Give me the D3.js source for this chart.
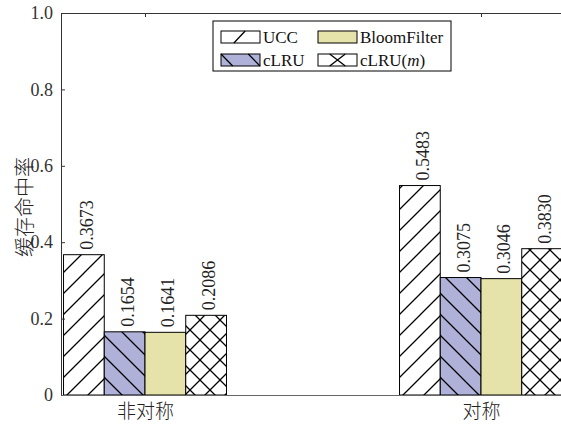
<!DOCTYPE html>
<html>
<head>
<meta charset="utf-8">
<script src="https://cdn.jsdelivr.net/npm/d3@7"></script>
<style>
  html, body { margin: 0; padding: 0; background: #fff; }
  svg { display: block; }
  .serif { font-family: "Liberation Serif", "DejaVu Serif", serif; }
  .cjk { font-family: "Noto Sans CJK SC", sans-serif; font-weight: 300; }
</style>
</head>
<body>
<svg id="chart" width="561" height="425"></svg>
<script>
// Cache hit rate per scenario and per policy
const categories = ["非对称", "对称"];
const seriesNames = ["UCC", "cLRU", "BloomFilter", "cLRU(m)"];
const ucc = [0.3673, 0.5483];
const clru = [0.1654, 0.3075];
const bloomFilter = [0.1641, 0.3046];
const clruM = [0.2086, 0.3830];
const yTicks = [0, 0.2, 0.4, 0.6, 0.8, 1.0];
const yLabel = "缓存命中率";

const seriesValues = [ucc, clru, bloomFilter, clruM];

const svg = d3.select("#chart");
const W = 561, H = 425;
const plot = { left: 61, right: 565, top: 13, bottom: 395 };

// category index 1..n on a continuous axis, groups centred on the integers
const x = d3.scaleLinear().domain([0.75, 2.25]).range([plot.left, plot.right]);
const y = d3.scaleLinear().domain([0, 1]).range([plot.bottom, plot.top]);
const inner = d3.scaleBand().domain(seriesNames).range([-0.2425, 0.2425]).padding(0);

// fills and hatch patterns
const defs = svg.append("defs");
function hatch(id, bg, kinds, size) {
  const p = defs.append("pattern").attr("id", id)
    .attr("patternUnits", "userSpaceOnUse")
    .attr("width", size).attr("height", size);
  p.append("rect").attr("width", size).attr("height", size).attr("fill", bg);
  kinds.forEach(k => {
    const d = k === "/"
      ? `M0,${size} L${size},0 M${-size/2},${size/2} L${size/2},${-size/2} M${size/2},${size*1.5} L${size*1.5},${size/2}`
      : `M0,0 L${size},${size} M${-size/2},${size/2} L${size/2},${size*1.5} M${size/2},${-size/2} L${size*1.5},${size/2}`;
    p.append("path").attr("d", d).attr("stroke", "#000").attr("stroke-width", 1.3).attr("fill", "none");
  });
}
hatch("p-ucc", "#ffffff", ["/"], 21);
hatch("p-clru", "#afb1d9", ["\\"], 21);
hatch("p-clrum", "#ffffff", ["/", "\\"], 20);

const styles = {
  "UCC": { fill: "url(#p-ucc)", bg: "#ffffff", marks: ["/"] },
  "cLRU": { fill: "url(#p-clru)", bg: "#afb1d9", marks: ["\\"] },
  "BloomFilter": { fill: "#e6e3aa", bg: "#e6e3aa", marks: [] },
  "cLRU(m)": { fill: "url(#p-clrum)", bg: "#ffffff", marks: ["x"] }
};

// flatten data
const data = [];
categories.forEach((c, ci) => {
  seriesNames.forEach((s, si) => {
    data.push({ cat: c, idx: ci + 1, series: s, value: seriesValues[si][ci] });
  });
});

const gPlot = svg.append("g");
gPlot.append("clipPath").attr("id", "clip").append("rect")
  .attr("x", plot.left).attr("y", 0).attr("width", W - plot.left).attr("height", H);

const bw = x(1 + inner.bandwidth()) - x(1);
const bars = gPlot.append("g").attr("clip-path", "url(#clip)");
bars.selectAll("rect.bar").data(data).join("rect")
  .attr("class", "bar")
  .attr("x", d => x(d.idx + inner(d.series)))
  .attr("width", bw)
  .attr("y", d => y(d.value))
  .attr("height", d => y(0) - y(d.value))
  .attr("fill", d => styles[d.series].fill)
  .attr("stroke", "#000")
  .attr("stroke-width", 1);

// value labels, rotated above each bar
bars.selectAll("text.val").data(data).join("text")
  .attr("class", "val serif")
  .attr("transform", d => `translate(${x(d.idx + inner(d.series)) + bw / 2 + 9},${y(d.value) - 5}) rotate(-90)`)
  .attr("font-size", 18)
  .attr("fill", "#222")
  .attr("text-anchor", "start")
  .text(d => d.value.toFixed(4));

// axes box: left, bottom, top
const axisColor = "#333";
const yAxis = d3.axisLeft(y).tickValues(yTicks).tickSizeInner(-4).tickSizeOuter(0)
  .tickPadding(8).tickFormat(d => d === 0 ? "0" : d3.format(".1f")(d));
const gy = svg.append("g").attr("transform", `translate(${plot.left},0)`).call(yAxis);
gy.select(".domain").attr("stroke", axisColor);
gy.selectAll(".tick line").attr("stroke", axisColor);
gy.selectAll(".tick text").attr("class", "serif").attr("font-size", 18).attr("fill", "#333");

const xTop = d3.axisTop(x).tickValues([1, 2]).tickSizeInner(-4).tickSizeOuter(0).tickFormat("");
const gxt = svg.append("g").attr("transform", `translate(0,${plot.top})`).call(xTop);
gxt.select(".domain").attr("stroke", axisColor);
gxt.selectAll(".tick line").attr("stroke", axisColor);

const xBottom = d3.axisBottom(x).tickValues([1, 2]).tickSizeInner(0).tickSizeOuter(0)
  .tickPadding(10).tickFormat((d, i) => categories[i]);
const gxb = svg.append("g").attr("transform", `translate(0,${plot.bottom})`).call(xBottom);
gxb.select(".domain").attr("stroke", "#666");
gxb.selectAll(".tick text").attr("class", "cjk").attr("font-size", 19).attr("fill", "#222");

// y-axis title
svg.append("text").attr("class", "cjk")
  .attr("transform", `translate(32,207) rotate(-90)`)
  .attr("text-anchor", "middle")
  .attr("font-size", 20).attr("fill", "#222")
  .text(yLabel);

// legend
const lg = svg.append("g").attr("transform", "translate(213,21)");
lg.append("rect").attr("width", 238).attr("height", 50)
  .attr("fill", "#fff").attr("stroke", "#000").attr("stroke-width", 1);
const legendPos = [
  { s: "UCC", x: 8, y: 10 }, { s: "BloomFilter", x: 105, y: 10 },
  { s: "cLRU", x: 8, y: 33 }, { s: "cLRU(m)", x: 105, y: 33 }
];
const sw = 39, sh = 12;
legendPos.forEach(e => {
  const g = lg.append("g").attr("transform", `translate(${e.x},${e.y})`);
  const st = styles[e.s];
  g.append("rect").attr("width", sw).attr("height", sh).attr("fill", st.bg)
    .attr("stroke", "#000").attr("stroke-width", 1);
  let path = "";
  if (st.marks[0] === "/") path = `M${sw*0.33},${sh} L${sw*0.62},0`;
  if (st.marks[0] === "\\") path = `M0,0 L${sw*0.3},${sh} M${sw*0.7},0 L${sw},${sh}`;
  if (st.marks[0] === "x") path = `M${sw*0.3},0 L${sw*0.7},${sh} M${sw*0.3},${sh} L${sw*0.7},0`;
  if (path) g.append("path").attr("d", path).attr("stroke", "#000").attr("stroke-width", 1.3).attr("fill", "none");
  const t = g.append("text").attr("class", "serif").attr("x", sw + 3).attr("y", sh - 0.5)
    .attr("font-size", 17).attr("fill", "#111");
  if (e.s === "cLRU(m)") {
    t.append("tspan").text("cLRU(");
    t.append("tspan").attr("font-style", "italic").text("m");
    t.append("tspan").text(")");
  } else {
    t.text(e.s);
  }
});
</script>
</body>
</html>
